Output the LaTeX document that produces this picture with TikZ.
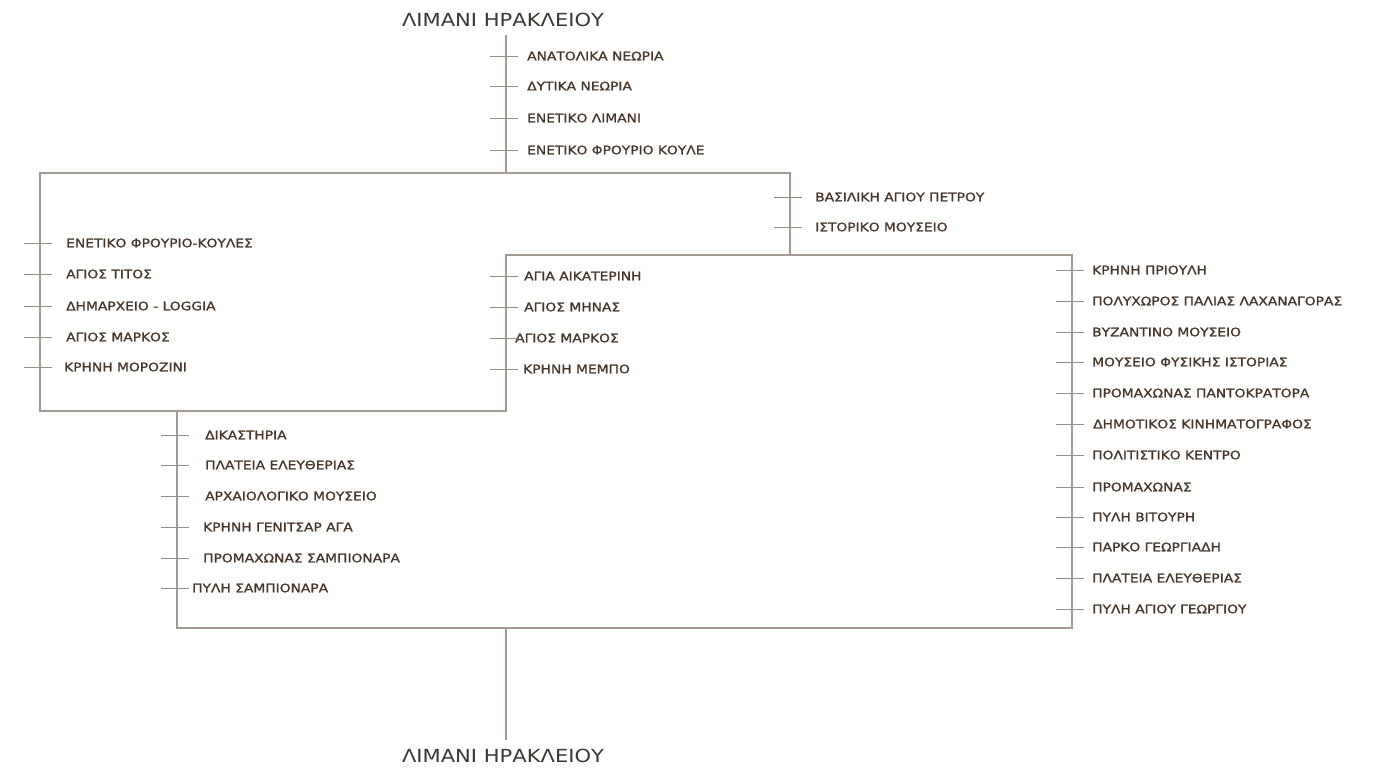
\documentclass[tikz,border=0pt]{standalone}
\usepackage{fontspec}
\setmainfont{DejaVu Sans}[FakeStretch=1.17]
\newfontfamily\labfont{DejaVu Sans}[FakeStretch=1.17,FakeBold=1.2]
\definecolor{route}{HTML}{A39B93}
\definecolor{ink}{HTML}{46362A}
\definecolor{titleink}{HTML}{3C3733}
\newcommand\mystop[5]{%
  \node[lab] (#1) at (#4,#3) {#5};
  \draw[tick] (#2-16,#3) -- (#2+12,#3);}
\begin{document}
\begin{tikzpicture}[x=1pt,y=-1pt,
  route/.style={draw=route,line width=1.3pt},
  tick/.style={draw=route!90!black,line width=1pt},
  lab/.style={anchor=west,inner sep=0pt,text=ink,font=\labfont\fontsize{11.8}{13}\selectfont},
  ttl/.style={inner sep=0pt,text=titleink,font=\fontsize{18}{20}\selectfont}]
\useasboundingbox (0,0) rectangle (1376,769);
\fill[white] (0,0) rectangle (1376,769);
% titles
\node[ttl] (top) at (503,20) {ΛΙΜΑΝΙ ΗΡΑΚΛΕΙΟΥ};
\node[ttl] (bot) at (503,756) {ΛΙΜΑΝΙ ΗΡΑΚΛΕΙΟΥ};
% route corners
\coordinate (t0) at (506,35);
\coordinate (j1) at (506,173);
\coordinate (a) at (40,173);
\coordinate (b) at (790,173);
\coordinate (c) at (790,255);
\coordinate (d) at (1072,255);
\coordinate (e) at (1072,628);
\coordinate (f) at (177,628);
\coordinate (g) at (177,411);
\coordinate (h) at (40,411);
\coordinate (m1) at (506,255);
\coordinate (m2) at (506,411);
\coordinate (j2) at (506,628);
\coordinate (t1) at (506,740);
\draw[route] (t0) -- (j1);
\draw[route] (a) -- (b) -- (c) -- (d) -- (e) -- (f) -- (g) -- (h) -- cycle;
\draw[route] (g) -- (m2) -- (m1) -- (c);
\draw[route] (j2) -- (t1);
% top branch
\mystop{s1}{506}{56}{527}{ΑΝΑΤΟΛΙΚΑ ΝΕΩΡΙΑ}
\mystop{s2}{506}{86}{527}{ΔΥΤΙΚΑ ΝΕΩΡΙΑ}
\mystop{s3}{506}{118}{527}{ΕΝΕΤΙΚΟ ΛΙΜΑΝΙ}
\mystop{s4}{506}{150}{527}{ΕΝΕΤΙΚΟ ΦΡΟΥΡΙΟ ΚΟΥΛΕ}
% upper right
\mystop{s5}{790}{197}{815}{ΒΑΣΙΛΙΚΗ ΑΓΙΟΥ ΠΕΤΡΟΥ}
\mystop{s6}{790}{227}{815}{ΙΣΤΟΡΙΚΟ ΜΟΥΣΕΙΟ}
% left
\mystop{l1}{40}{243}{66}{ΕΝΕΤΙΚΟ ΦΡΟΥΡΙΟ-ΚΟΥΛΕΣ}
\mystop{l2}{40}{274}{66}{ΑΓΙΟΣ ΤΙΤΟΣ}
\mystop{l3}{40}{306}{66}{ΔΗΜΑΡΧΕΙΟ - LOGGIA}
\mystop{l4}{40}{337}{66}{ΑΓΙΟΣ ΜΑΡΚΟΣ}
\mystop{l5}{40}{367}{64}{ΚΡΗΝΗ ΜΟΡΟΖΙΝΙ}
% middle
\mystop{m1l}{506}{276}{524}{ΑΓΙΑ ΑΙΚΑΤΕΡΙΝΗ}
\mystop{m2l}{506}{307}{524}{ΑΓΙΟΣ ΜΗΝΑΣ}
\mystop{m3l}{506}{338}{515}{ΑΓΙΟΣ ΜΑΡΚΟΣ}
\mystop{m4l}{506}{369}{523}{ΚΡΗΝΗ ΜΕΜΠΟ}
% right
\mystop{r1}{1072}{270}{1092}{ΚΡΗΝΗ ΠΡΙΟΥΛΗ}
\mystop{r2}{1072}{301}{1092}{ΠΟΛΥΧΩΡΟΣ ΠΑΛΙΑΣ ΛΑΧΑΝΑΓΟΡΑΣ}
\mystop{r3}{1072}{332}{1092}{ΒΥΖΑΝΤΙΝΟ ΜΟΥΣΕΙΟ}
\mystop{r4}{1072}{362}{1092}{ΜΟΥΣΕΙΟ ΦΥΣΙΚΗΣ ΙΣΤΟΡΙΑΣ}
\mystop{r5}{1072}{393}{1092}{ΠΡΟΜΑΧΩΝΑΣ ΠΑΝΤΟΚΡΑΤΟΡΑ}
\mystop{r6}{1072}{424}{1093}{ΔΗΜΟΤΙΚΟΣ ΚΙΝΗΜΑΤΟΓΡΑΦΟΣ}
\mystop{r7}{1072}{455}{1092}{ΠΟΛΙΤΙΣΤΙΚΟ ΚΕΝΤΡΟ}
\mystop{r8}{1072}{487}{1092}{ΠΡΟΜΑΧΩΝΑΣ}
\mystop{r9}{1072}{517}{1092}{ΠΥΛΗ ΒΙΤΟΥΡΗ}
\mystop{r10}{1072}{547}{1092}{ΠΑΡΚΟ ΓΕΩΡΓΙΑΔΗ}
\mystop{r11}{1072}{578}{1092}{ΠΛΑΤΕΙΑ ΕΛΕΥΘΕΡΙΑΣ}
\mystop{r12}{1072}{609}{1092}{ΠΥΛΗ ΑΓΙΟΥ ΓΕΩΡΓΙΟΥ}
% bottom left
\mystop{b1}{177}{435}{205}{ΔΙΚΑΣΤΗΡΙΑ}
\mystop{b2}{177}{465}{205}{ΠΛΑΤΕΙΑ ΕΛΕΥΘΕΡΙΑΣ}
\mystop{b3}{177}{496}{205}{ΑΡΧΑΙΟΛΟΓΙΚΟ ΜΟΥΣΕΙΟ}
\mystop{b4}{177}{527}{203}{ΚΡΗΝΗ ΓΕΝΙΤΣΑΡ ΑΓΑ}
\mystop{b5}{177}{558}{203}{ΠΡΟΜΑΧΩΝΑΣ ΣΑΜΠΙΟΝΑΡΑ}
\mystop{b6}{177}{588}{192}{ΠΥΛΗ ΣΑΜΠΙΟΝΑΡΑ}
\end{tikzpicture}
\end{document}
